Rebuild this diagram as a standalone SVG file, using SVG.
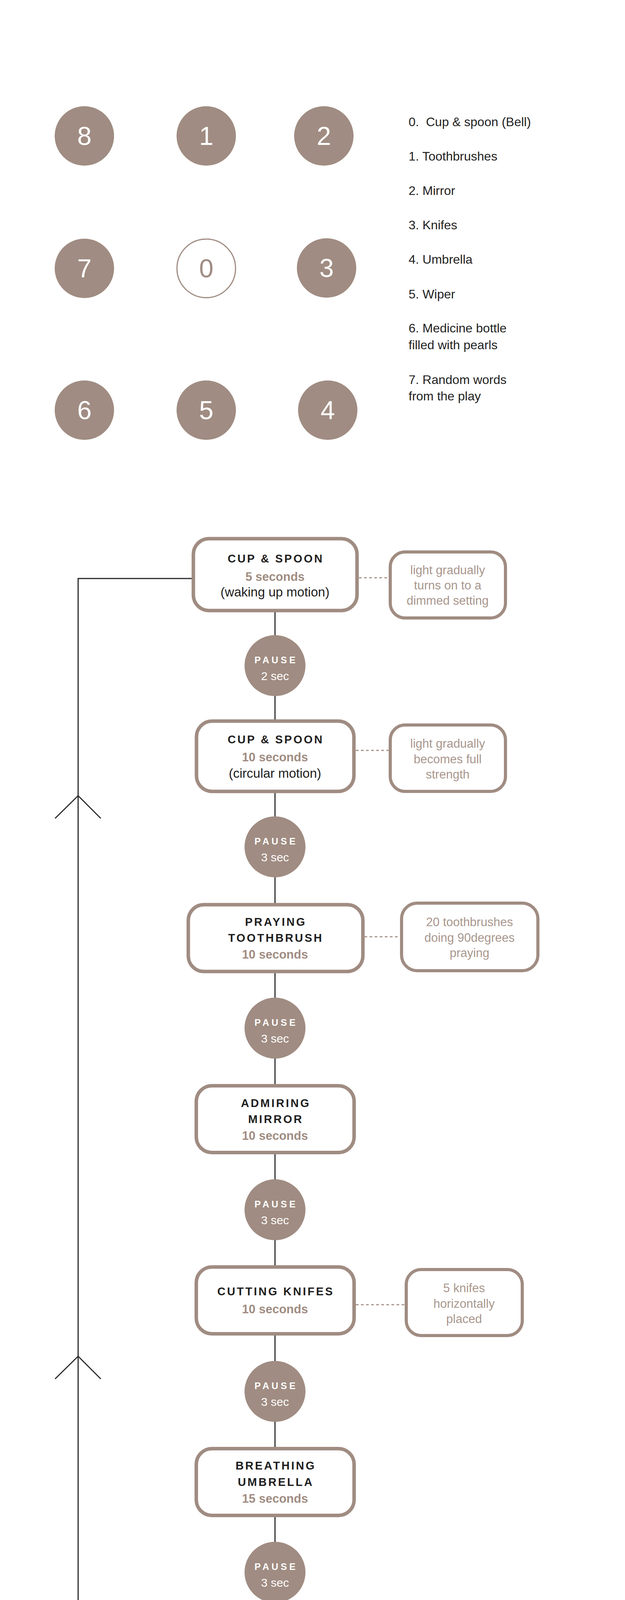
<svg xmlns="http://www.w3.org/2000/svg" width="1600" height="7467" viewBox="0 0 1600 7467">
<style>
.bg{fill:#ffffff}
.lc{fill:#a08c82}
.lco{fill:#ffffff;stroke:#a08c82;stroke-width:3}
.ln{font-family:"Liberation Sans",Arial,sans-serif;font-size:66px;fill:#ffffff;text-anchor:middle}
.leg{font-family:"Liberation Sans",Arial,sans-serif;font-size:32px;fill:#222222;white-space:pre}
.box{fill:#ffffff;stroke:#a08c82;stroke-width:9}
.side{fill:#ffffff;stroke:#a08c82;stroke-width:8}
.pause{fill:#a08c82}
.t{font-family:"Liberation Sans",Arial,sans-serif;font-size:29px;font-weight:bold;letter-spacing:4px;fill:#1e1e1e;text-anchor:middle}
.d{font-family:"Liberation Sans",Arial,sans-serif;font-size:31px;font-weight:bold;fill:#a08c82;text-anchor:middle}
.s{font-family:"Liberation Sans",Arial,sans-serif;font-size:33px;fill:#1e1e1e;text-anchor:middle}
.n{font-family:"Liberation Sans",Arial,sans-serif;font-size:31px;fill:#a8968c;text-anchor:middle}
.pt{font-family:"Liberation Sans",Arial,sans-serif;font-size:24px;font-weight:bold;letter-spacing:6px;fill:#ffffff;text-anchor:middle}
.ps{font-family:"Liberation Sans",Arial,sans-serif;font-size:30px;fill:#ffffff;text-anchor:middle}
.wire{fill:none;stroke:#2a2a2a;stroke-width:3}
.dot{fill:none;stroke:#a89488;stroke-width:3;stroke-dasharray:7 6}
</style>
<rect class="bg" x="0" y="0" width="1600" height="7467"/>

<g id="legend">
  <g id="obj-8"><circle class="lc" cx="216" cy="348" r="76"/><text class="ln" x="216" y="371">8</text></g>
  <g id="obj-1"><circle class="lc" cx="528" cy="348" r="76"/><text class="ln" x="528" y="371">1</text></g>
  <g id="obj-2"><circle class="lc" cx="829" cy="348" r="76"/><text class="ln" x="829" y="371">2</text></g>
  <g id="obj-7"><circle class="lc" cx="216" cy="687" r="76"/><text class="ln" x="216" y="710">7</text></g>
  <g id="obj-0"><circle class="lco" cx="528" cy="687" r="75"/><text class="ln" x="528" y="710" style="fill:#a08c82">0</text></g>
  <g id="obj-3"><circle class="lc" cx="836" cy="686" r="76"/><text class="ln" x="836" y="709">3</text></g>
  <g id="obj-6"><circle class="lc" cx="216" cy="1050" r="76"/><text class="ln" x="216" y="1073">6</text></g>
  <g id="obj-5"><circle class="lc" cx="528" cy="1050" r="76"/><text class="ln" x="528" y="1073">5</text></g>
  <g id="obj-4"><circle class="lc" cx="839" cy="1050" r="76"/><text class="ln" x="839" y="1073">4</text></g>
  <g id="legend-text">
    <text class="leg" x="1046" y="323">0.  Cup &amp; spoon (Bell)</text>
    <text class="leg" x="1046" y="411">1. Toothbrushes</text>
    <text class="leg" x="1046" y="499">2. Mirror</text>
    <text class="leg" x="1046" y="587">3. Knifes</text>
    <text class="leg" x="1046" y="675">4. Umbrella</text>
    <text class="leg" x="1046" y="764">5. Wiper</text>
    <text class="leg" x="1046" y="851">6. Medicine bottle</text>
    <text class="leg" x="1046" y="894">filled with pearls</text>
    <text class="leg" x="1046" y="983">7. Random words</text>
    <text class="leg" x="1046" y="1025">from the play</text>
  </g>
</g>

<g id="connectors">
  <line class="wire" x1="704" y1="1567" x2="704" y2="6824"/>
  <path class="wire" d="M735 6999 V7191 H200 V1481 H491"/>
  <path class="wire" d="M141 2095 L200 2037 L258 2095"/>
  <path class="wire" d="M141 3530 L200 3472 L258 3530"/>
  <path class="wire" d="M141 4966 L200 4908 L258 4966"/>
  <path class="wire" d="M141 6402 L200 6344 L258 6402"/>
  <line class="dot" x1="919" y1="1479" x2="995" y2="1479"/>
  <line class="dot" x1="911" y1="1921" x2="995" y2="1921"/>
  <line class="dot" x1="933" y1="2398" x2="1024" y2="2398"/>
  <line class="dot" x1="911" y1="3340" x2="1036" y2="3340"/>
  <line class="dot" x1="911" y1="4723" x2="1022" y2="4723"/>
  <line class="dot" x1="911" y1="5147" x2="1040" y2="5147"/>
  <line class="dot" x1="911" y1="6250" x2="997" y2="6250"/>
  <line class="dot" x1="911" y1="6530" x2="1000" y2="6530"/>
</g>

<g id="node-cup1">
  <rect class="box" x="495" y="1379" width="419" height="184" rx="40"/>
  <text class="t" x="706" y="1440">CUP &amp; SPOON</text>
  <text class="d" x="704" y="1487">5 seconds</text>
  <text class="s" x="704" y="1527">(waking up motion)</text>
</g>
<g id="note-cup1">
  <rect class="side" x="999" y="1413" width="295" height="169" rx="38"/>
  <text class="n" x="1146" y="1470">light gradually</text>
  <text class="n" x="1146" y="1509">turns on to a</text>
  <text class="n" x="1146" y="1548">dimmed setting</text>
</g>
<g id="pause-1">
  <circle class="pause" cx="704" cy="1704" r="78"/>
  <text class="pt" x="707" y="1698">PAUSE</text>
  <text class="ps" x="704" y="1741">2 sec</text>
</g>

<g id="node-cup2">
  <rect class="box" x="503" y="1846" width="403" height="180" rx="40"/>
  <text class="t" x="706" y="1903">CUP &amp; SPOON</text>
  <text class="d" x="704" y="1949">10 seconds</text>
  <text class="s" x="704" y="1991">(circular motion)</text>
</g>
<g id="note-cup2">
  <rect class="side" x="999" y="1856" width="295" height="170" rx="38"/>
  <text class="n" x="1146" y="1914">light gradually</text>
  <text class="n" x="1146" y="1954">becomes full</text>
  <text class="n" x="1146" y="1993">strength</text>
</g>
<g id="pause-2">
  <circle class="pause" cx="704" cy="2168" r="78"/>
  <text class="pt" x="707" y="2162">PAUSE</text>
  <text class="ps" x="704" y="2205">3 sec</text>
</g>

<g id="node-toothbrush">
  <rect class="box" x="482" y="2316" width="447" height="171" rx="40"/>
  <text class="t" x="706" y="2370">PRAYING</text>
  <text class="t" x="706" y="2411">TOOTHBRUSH</text>
  <text class="d" x="704" y="2454">10 seconds</text>
</g>
<g id="note-toothbrush">
  <rect class="side" x="1028" y="2312" width="349" height="173" rx="40"/>
  <text class="n" x="1202" y="2371">20 toothbrushes</text>
  <text class="n" x="1202" y="2411">doing 90degrees</text>
  <text class="n" x="1202" y="2450">praying</text>
</g>
<g id="pause-3">
  <circle class="pause" cx="704" cy="2632" r="78"/>
  <text class="pt" x="707" y="2626">PAUSE</text>
  <text class="ps" x="704" y="2669">3 sec</text>
</g>

<g id="node-mirror">
  <rect class="box" x="502.5" y="2779.5" width="404" height="171" rx="40"/>
  <text class="t" x="706" y="2834">ADMIRING</text>
  <text class="t" x="706" y="2875">MIRROR</text>
  <text class="d" x="704" y="2918">10 seconds</text>
</g>
<g id="pause-4">
  <circle class="pause" cx="704" cy="3097" r="78"/>
  <text class="pt" x="707" y="3091">PAUSE</text>
  <text class="ps" x="704" y="3134">3 sec</text>
</g>

<g id="node-knifes">
  <rect class="box" x="502.5" y="3243.5" width="404" height="171" rx="40"/>
  <text class="t" x="706" y="3316">CUTTING KNIFES</text>
  <text class="d" x="704" y="3362">10 seconds</text>
</g>
<g id="note-knifes">
  <rect class="side" x="1040" y="3250" width="297" height="169" rx="38"/>
  <text class="n" x="1188" y="3308">5 knifes</text>
  <text class="n" x="1188" y="3348">horizontally</text>
  <text class="n" x="1188" y="3387">placed</text>
</g>
<g id="pause-5">
  <circle class="pause" cx="704" cy="3562" r="78"/>
  <text class="pt" x="707" y="3556">PAUSE</text>
  <text class="ps" x="704" y="3599">3 sec</text>
</g>

<g id="node-umbrella">
  <rect class="box" x="502.5" y="3708.5" width="404" height="171" rx="40"/>
  <text class="t" x="706" y="3762">BREATHING</text>
  <text class="t" x="706" y="3804">UMBRELLA</text>
  <text class="d" x="704" y="3847">15 seconds</text>
</g>
<g id="pause-6">
  <circle class="pause" cx="704" cy="4025" r="78"/>
  <text class="pt" x="707" y="4019">PAUSE</text>
  <text class="ps" x="704" y="4062">3 sec</text>
</g>

<g id="node-wiping">
  <rect class="box" x="502.5" y="4192.5" width="404" height="132" rx="40"/>
  <text class="t" x="706" y="4246">LIGHT WIPING</text>
  <text class="d" x="704" y="4291">10 seconds</text>
</g>
<g id="pause-7">
  <circle class="pause" cx="704" cy="4490" r="78"/>
  <text class="pt" x="707" y="4484">PAUSE</text>
  <text class="ps" x="704" y="4527">3 sec</text>
</g>

<g id="node-bottle">
  <rect class="box" x="502.5" y="4635.5" width="404" height="171" rx="40"/>
  <text class="t" x="706" y="4691">MEDICINE BOTTLE</text>
  <text class="t" x="706" y="4733">WITH PEARLS</text>
  <text class="d" x="704" y="4776">10 seconds</text>
</g>
<g id="note-bottle">
  <rect class="side" x="1026" y="4597" width="297" height="248" rx="40"/>
  <text class="n" x="1175" y="4654">Bottle slowly</text>
  <text class="n" x="1175" y="4694">tipping until</text>
  <text class="n" x="1175" y="4733">pearls almost</text>
  <text class="n" x="1175" y="4772">pour out, and</text>
  <text class="n" x="1175" y="4812">then goes back</text>
</g>
<g id="pause-8">
  <circle class="pause" cx="704" cy="4931" r="78"/>
  <text class="pt" x="707" y="4925">PAUSE</text>
  <text class="ps" x="704" y="4968">3 sec</text>
</g>

<g id="node-words">
  <rect class="box" x="502.5" y="5063.5" width="404" height="171" rx="40"/>
  <text class="t" x="706" y="5139">RANDOM WORDS</text>
  <text class="d" x="704" y="5183">10 seconds</text>
</g>
<g id="note-words">
  <rect class="side" x="1044" y="5026" width="296" height="365" rx="40"/>
  <text class="n" x="1192" y="5082">DISPLAY/</text>
  <text class="n" x="1192" y="5122">PROJECTION/</text>
  <text class="n" x="1192" y="5161">ANALOG</text>
  <text class="n" x="1192" y="5200">Randomised</text>
  <text class="n" x="1192" y="5240">combination</text>
  <text class="n" x="1192" y="5280">of 3 words :</text>
  <text class="n" x="1192" y="5319">Subject + Action</text>
  <text class="n" x="1192" y="5358">+ Object</text>
</g>

<g id="node-unknown">
  <rect class="box" x="502.5" y="5476.5" width="404" height="171" rx="40"/>
  <text class="t" x="706" y="5573">??</text>
</g>

<g id="node-chaos">
  <rect class="box" x="502.5" y="6168.5" width="404" height="172" rx="40"/>
  <text class="t" x="706" y="6244">CHAOS</text>
  <text class="d" x="704" y="6289">20 seconds</text>
</g>
<g id="note-chaos">
  <rect class="side" x="1001" y="6168" width="298" height="171" rx="40"/>
  <text class="n" x="1150" y="6225">All objects</text>
  <text class="n" x="1150" y="6265">moving</text>
  <text class="n" x="1150" y="6304">franticly</text>
</g>

<g id="node-waltz">
  <rect class="box" x="502.5" y="6446.5" width="404" height="172" rx="40"/>
  <text class="t" x="706" y="6522">WATLZ</text>
  <text class="d" x="704" y="6565">10 seconds</text>
</g>
<g id="note-waltz">
  <rect class="side" x="1004" y="6409" width="297" height="247" rx="40"/>
  <text class="n" x="1152" y="6464">All objects</text>
  <text class="n" x="1152" y="6504">moving</text>
  <text class="n" x="1152" y="6543">harmoniously</text>
  <text class="n" x="1152" y="6582">along with the</text>
  <text class="n" x="1152" y="6623">waltz.</text>
</g>

<g id="node-lightsout">
  <rect class="box" x="502.5" y="6824.5" width="404" height="171" rx="40"/>
  <text class="t" x="706" y="6898">LIGHTS OUT</text>
  <text class="d" x="704" y="6944">10 seconds</text>
</g>
</svg>
